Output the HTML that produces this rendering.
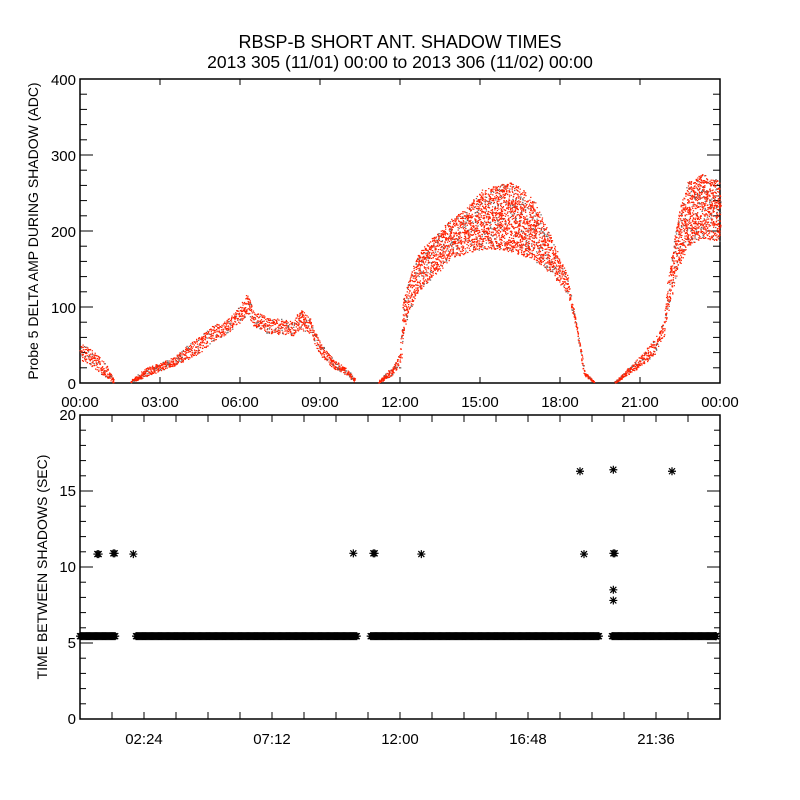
<!DOCTYPE html>
<html><head><meta charset="utf-8">
<style>
html,body{margin:0;padding:0;background:#fff;}
svg{display:block;font-family:"Liberation Sans",sans-serif;}
</style></head>
<body>
<svg id="c" width="800" height="800" viewBox="0 0 800 800">
<rect width="800" height="800" fill="#fff"/>
<text x="400" y="48" text-anchor="middle" font-size="18">RBSP-B SHORT ANT. SHADOW TIMES</text>
<text x="400" y="68" text-anchor="middle" font-size="17.5">2013 305 (11/01) 00:00 to 2013 306 (11/02) 00:00</text>
<text transform="translate(38,231) rotate(-90)" text-anchor="middle" font-size="14">Probe 5 DELTA AMP DURING SHADOW (ADC)</text>
<text transform="translate(47,567) rotate(-90)" text-anchor="middle" font-size="14">TIME BETWEEN SHADOWS (SEC)</text>
<g id="topPanel"></g>
<g id="botPanel"></g>
</svg>
<script>
// ---- Top panel data: envelopes [hour, low, high] per segment ----
const seg1 = [[0,30,52],[0.5,20,42],[1.0,5,22],[1.25,0,3]];
const seg2 = [[1.9,0,3],[2.5,8,20],[3,15,26],[3.5,22,33],[4,30,48],[4.5,40,62],[5,55,76],[5.5,65,82],[6,80,102],[6.25,90,118],[6.5,75,96],[7,65,86],[8,62,82],[8.25,70,97],[8.6,65,86],[9,35,52],[9.5,18,30],[10,10,18],[10.3,0,5]];
const seg3 = [[11.2,0,3],[11.7,10,22],[12,20,38],[12.1,60,110],[12.25,87,126],[12.62,118,168],[13.25,140,192],[13.87,162,214],[14.5,171,231],[15.1,175,255],[15.75,175,261],[16.3,171,264],[17,162,240],[17.6,145,196],[18.25,118,143],[18.6,74,77],[18.9,10,14],[19.25,0,2]];
const seg4 = [[20.06,0,2],[20.75,15,26],[21.5,35,55],[21.87,60,80],[22,90,125],[22.2,120,170],[22.4,150,220],[22.8,180,265],[23.3,190,275],[24,185,265]];
const topSegments = [seg1, seg2, seg3, seg4];
const topYTicks = [0,100,200,300,400];
const topXTicks = ["00:00","03:00","06:00","09:00","12:00","15:00","18:00","21:00","00:00"];

// ---- Bottom panel data ----
const bandRanges = [[0,1.35],[2.1,10.4],[10.9,19.46],[19.95,24]];
const bandValue = 5.45;
const isoHours = [0.65,0.7,1.25,1.3,2.0,10.25,11.0,11.05,12.8,18.75,18.9,20.0,20.0,20.05,20.0,20.0,22.2];
const isoValues = [10.85,10.85,10.9,10.9,10.85,10.9,10.9,10.9,10.85,16.3,10.85,16.4,10.9,10.9,8.5,7.8,16.3];
const botYTicks = [0,5,10,15,20];
const botXTicks = ["02:24","07:12","12:00","16:48","21:36"];

const NS="http://www.w3.org/2000/svg";
const L=80,R=720;
const tx=h=>L+(h/24)*(R-L);
const tyTop=v=>383-v*(304/400);
const tyBot=v=>719-v*(304/20);
function mk(tag,attrs,parent){const e=document.createElementNS(NS,tag);for(const k in attrs)e.setAttribute(k,attrs[k]);parent.appendChild(e);return e;}
const topG=document.getElementById('topPanel'), botG=document.getElementById('botPanel');

let f1=mk('rect',{x:80,y:79,width:640,height:304,fill:'none',stroke:'#000','stroke-width':1.5},topG);


let f2=mk('rect',{x:80,y:415,width:640,height:304,fill:'none',stroke:'#000','stroke-width':1.5},botG);



for(let v=0;v<=400;v+=20){const y=tyTop(v);const len=(v%100===0)?13:7;
 mk('line',{x1:80,x2:80+len,y1:y,y2:y,stroke:'#000'},topG);mk('line',{x1:720,x2:720-len,y1:y,y2:y,stroke:'#000'},topG);}
topYTicks.forEach(v=>{const t=mk('text',{x:76,y:tyTop(v)+6,'text-anchor':'end','font-size':15},topG);t.textContent=v;
 
 });
topXTicks.forEach((s,i)=>{const x=tx(i*3);
 mk('line',{x1:x,x2:x,y1:79,y2:85,stroke:'#000'},topG);mk('line',{x1:x,x2:x,y1:383,y2:377,stroke:'#000'},topG);
 const t=mk('text',{x:x,y:407,'text-anchor':'middle','font-size':15},topG);t.textContent=s;
 
 });

function hash(n){let x=Math.sin(n*12.9898+78.233)*43758.5453;return x-Math.floor(x);}
let seed=1;
const dots=mk('g',{},topG);


topSegments.forEach(seg=>{
 for(let i=0;i<seg.length-1;i++){
  const [h0,l0,u0]=seg[i],[h1,l1,u1]=seg[i+1];
  for(let h=h0;h<h1;h+=0.012){
   const f=(h-h0)/(h1-h0);const lo=l0+(l1-l0)*f, hi=u0+(u1-u0)*f;
   const n=Math.max(2,Math.ceil((hi-lo)/12));
   for(let k=0;k<n;k++){seed++;const v=lo+(hi-lo)*hash(seed);
    const dark=hash(seed*3.1)<0.12;
    mk('rect',{x:tx(h)+hash(seed*7.7)*1.5-0.6,y:tyTop(v)-0.6,width:1.3,height:1.2,fill:dark?'#666':'#ff2000'},dots);}
  }
 }
});

for(let v=0;v<=20;v+=1){const y=tyBot(v);const len=(v%5===0)?13:6;
 mk('line',{x1:80,x2:80+len,y1:y,y2:y,stroke:'#000'},botG);mk('line',{x1:720,x2:720-len,y1:y,y2:y,stroke:'#000'},botG);}
botYTicks.forEach(v=>{const t=mk('text',{x:76,y:tyBot(v)+5,'text-anchor':'end','font-size':15},botG);t.textContent=v;
 
 });
for(let h=1.2;h<24;h+=1.2){const x=tx(h);
 mk('line',{x1:x,x2:x,y1:415,y2:422,stroke:'#000'},botG);mk('line',{x1:x,x2:x,y1:719,y2:712,stroke:'#000'},botG);}
botXTicks.forEach((s,i)=>{const x=tx(2.4+i*4.8);
 const t=mk('text',{x:x,y:744,'text-anchor':'middle','font-size':15},botG);t.textContent=s;
 
 });

function star(x,y,g){const r=4;
 mk('path',{d:`M${x-r},${y}H${x+r}M${x},${y-r}V${y+r}M${x-3},${y-3}L${x+3},${y+3}M${x-3},${y+3}L${x+3},${y-3}`,stroke:'#000','stroke-width':1.2,fill:'none'},g);}
const band=mk('g',{},botG);


bandRanges.forEach(([a,b])=>{for(let h=a;h<=b;h+=0.04){star(Math.min(tx(h),716),tyBot(bandValue),band);}});
const iso=mk('g',{},botG);


isoHours.forEach((h,i)=>star(tx(h),tyBot(isoValues[i]),iso));
</script>
</body></html>
